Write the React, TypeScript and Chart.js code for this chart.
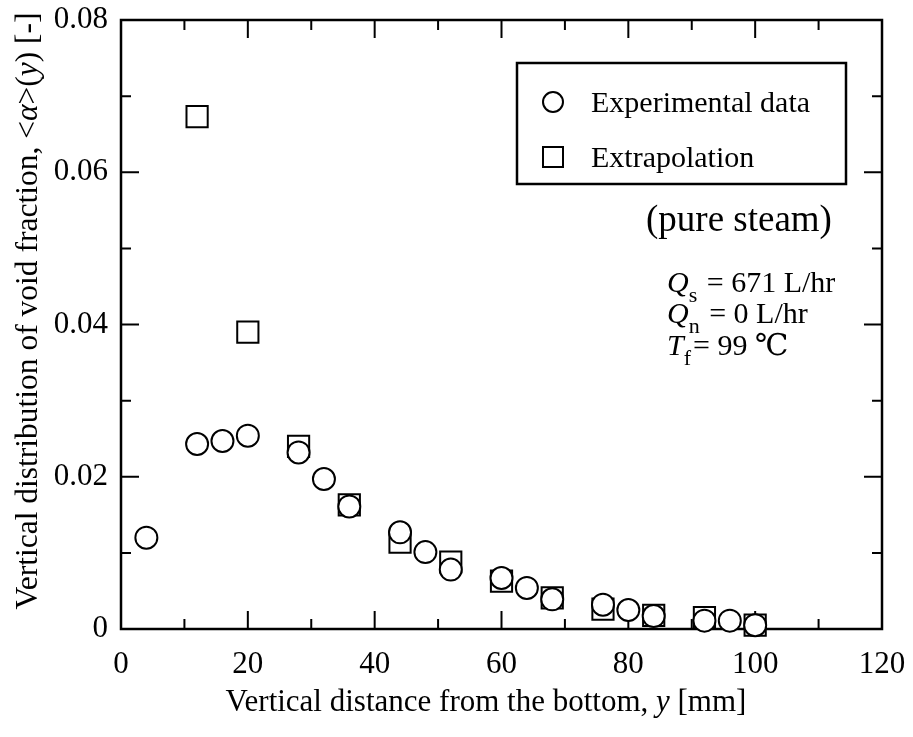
import React, { useEffect, useRef } from "react";
import { Chart, registerables } from "chart.js";

Chart.register(...registerables);

// ---- data ----
const expX = [4, 12, 16, 20, 28, 32, 36, 44, 48, 52, 60, 64, 68, 76, 80, 84, 92, 96, 100];
const expY = [0.012, 0.0243, 0.0247, 0.0254, 0.0232, 0.0197, 0.0161, 0.0127, 0.0101, 0.0078, 0.0067, 0.0054, 0.0039, 0.0032, 0.0025, 0.0017, 0.0011, 0.0011, 0.0005];
const extX = [12, 20, 28, 36, 44, 52, 60, 68, 76, 84, 92, 100];
const extY = [0.0673, 0.039, 0.024, 0.0163, 0.0114, 0.0088, 0.0063, 0.0041, 0.0026, 0.0018, 0.0015, 0.0005];

const xTicksStep = 20;
const yTicksStep = 0.02;
const xMin = 0, xMax = 120, yMin = 0, yMax = 0.08;

const legendLabels = ["Experimental data", "Extrapolation"];
const xTitle = [
  { t: "Vertical distance from the bottom, " },
  { t: "y", i: true },
  { t: " [mm]" },
];
const yTitle = [
  { t: "Vertical distribution of void fraction, <" },
  { t: "α", i: true },
  { t: ">(" },
  { t: "y", i: true },
  { t: ") [-]" },
];
const noteTitle = "(pure steam)";
const noteLines = [
  [{ t: "Q", i: true }, { t: "s", sub: true }, { t: " = 671 L/hr" }],
  [{ t: "Q", i: true }, { t: "n", sub: true }, { t: " = 0 L/hr" }],
  [{ t: "T", i: true }, { t: "f", sub: true }, { t: "= 99 " }, { t: "℃", f: "'DejaVu Serif', serif" }],
];

const FONT = "'Liberation Serif', 'Times New Roman', serif";

type Run = { t: string; i?: boolean; sub?: boolean; f?: string };

function fontFor(r: Run, size: number) {
  const s = r.sub ? Math.round(size * 0.72) : size;
  return `${r.i ? "italic " : ""}${s}px ${r.f || FONT}`;
}
function runsWidth(ctx: CanvasRenderingContext2D, runs: Run[], size: number) {
  let w = 0;
  for (const r of runs) {
    ctx.font = fontFor(r, size);
    w += ctx.measureText(r.t).width;
  }
  return w;
}
function drawRuns(ctx: CanvasRenderingContext2D, runs: Run[], x: number, y: number, size: number) {
  let cx = x;
  ctx.textBaseline = "alphabetic";
  ctx.textAlign = "left";
  for (const r of runs) {
    ctx.font = fontFor(r, size);
    ctx.fillText(r.t, cx, r.sub ? y + size * 0.32 : y);
    cx += ctx.measureText(r.t).width + (r.sub ? 2 : 0);
  }
}

const framePlugin = {
  id: "frame",
  beforeDatasetsDraw(chart: any) {
    const { ctx, chartArea: a, scales } = chart;
    const xs = scales.x, ys = scales.y;
    ctx.save();
    ctx.strokeStyle = "#000";
    ctx.lineWidth = 2.5;
    ctx.strokeRect(a.left, a.top, a.right - a.left, a.bottom - a.top);
    ctx.lineWidth = 2;
    const major = 18, minor = 10;
    ctx.beginPath();
    for (let v = xMin; v <= xMax + 1e-9; v += xTicksStep / 2) {
      const p = xs.getPixelForValue(v);
      const isMajor = Math.abs(v / xTicksStep - Math.round(v / xTicksStep)) < 1e-6;
      const L = isMajor ? major : minor;
      ctx.moveTo(p, a.bottom); ctx.lineTo(p, a.bottom - L);
      ctx.moveTo(p, a.top); ctx.lineTo(p, a.top + L);
    }
    for (let v = yMin; v <= yMax + 1e-9; v += yTicksStep / 2) {
      const p = ys.getPixelForValue(v);
      const isMajor = Math.abs(v / yTicksStep - Math.round(v / yTicksStep)) < 1e-6;
      const L = isMajor ? major : minor;
      ctx.moveTo(a.left, p); ctx.lineTo(a.left + L, p);
      ctx.moveTo(a.right, p); ctx.lineTo(a.right - L, p);
    }
    ctx.stroke();
    ctx.restore();
  },
  afterDraw(chart: any) {
    const { ctx } = chart;
    ctx.save();
    ctx.fillStyle = "#000";
    ctx.strokeStyle = "#000";
    // x title
    const ts = 31;
    const xw = runsWidth(ctx, xTitle, ts);
    drawRuns(ctx, xTitle, 486 - xw / 2, 711, ts);
    // y title
    ctx.save();
    ctx.translate(37, 311);
    ctx.rotate(-Math.PI / 2);
    const yw = runsWidth(ctx, yTitle, 31.5);
    drawRuns(ctx, yTitle, -yw / 2, 0, 31.5);
    ctx.restore();
    // legend
    ctx.lineWidth = 2.5;
    ctx.fillStyle = "#fff";
    ctx.fillRect(517, 63, 329, 121);
    ctx.strokeRect(517, 63, 329, 121);
    ctx.lineWidth = 2;
    ctx.beginPath();
    ctx.arc(553, 102, 10, 0, Math.PI * 2);
    ctx.stroke();
    ctx.strokeRect(543, 147, 20, 20);
    ctx.fillStyle = "#000";
    ctx.font = `30px ${FONT}`;
    ctx.textBaseline = "alphabetic";
    ctx.fillText(legendLabels[0], 591, 112);
    ctx.fillText(legendLabels[1], 591, 167);
    // notes
    ctx.font = `37px ${FONT}`;
    ctx.fillText(noteTitle, 646, 231);
    const ns = 30;
    drawRuns(ctx, noteLines[0], 667, 292, ns);
    drawRuns(ctx, noteLines[1], 667, 323, ns);
    drawRuns(ctx, noteLines[2], 667, 355, ns);
    ctx.restore();
  },
};

export default function App() {
  const ref = useRef<HTMLCanvasElement>(null);
  useEffect(() => {
    document.body.style.margin = "0";
    const canvas = ref.current!;
    const chart = new Chart(canvas, {
      type: "scatter",
      data: {
        datasets: [
          {
            label: legendLabels[0],
            data: expX.map((x, i) => ({ x, y: expY[i] })),
            pointStyle: "circle",
            pointRadius: 11,
            pointHoverRadius: 11,
            borderWidth: 2,
            borderColor: "#000",
            backgroundColor: "#fff",
            clip: false as any,
          },
          {
            label: legendLabels[1],
            data: extX.map((x, i) => ({ x, y: extY[i] })),
            pointStyle: "rect",
            pointRadius: 15,
            pointHoverRadius: 15,
            borderWidth: 2,
            borderColor: "#000",
            backgroundColor: "#fff",
            clip: false as any,
          },
        ],
      },
      options: {
        animation: false,
        responsive: false,
        devicePixelRatio: 1,
        layout: { padding: { top: 20, right: 31, left: 0, bottom: 0 } },
        plugins: { legend: { display: false }, tooltip: { enabled: false } },
        events: [],
        scales: {
          x: {
            type: "linear",
            min: xMin,
            max: xMax,
            grid: { display: false },
            border: { display: false },
            ticks: {
              stepSize: xTicksStep,
              color: "#000",
              padding: 9,
              font: { family: FONT, size: 31 },
              maxRotation: 0,
            },
            afterFit: (s: any) => { s.height = 108; s.paddingRight = 0; s.paddingLeft = 0; },
          },
          y: {
            type: "linear",
            min: yMin,
            max: yMax,
            grid: { display: false },
            border: { display: false },
            ticks: {
              stepSize: yTicksStep,
              color: "#000",
              padding: 5,
              font: { family: FONT, size: 31 },
              callback: (v: any) => (v === 0 ? "0" : Number(v).toFixed(2)),
            },
            afterFit: (s: any) => { s.width = 121; s.paddingTop = 0; s.paddingBottom = 0; },
          },
        },
      },
      plugins: [framePlugin],
    });
    return () => chart.destroy();
  }, []);
  return (
    <div style={{ position: "fixed", left: 0, top: 0, width: 913, height: 737, background: "#fff" }}>
      <canvas ref={ref} width={913} height={737} style={{ width: 913, height: 737 }} />
    </div>
  );
}
